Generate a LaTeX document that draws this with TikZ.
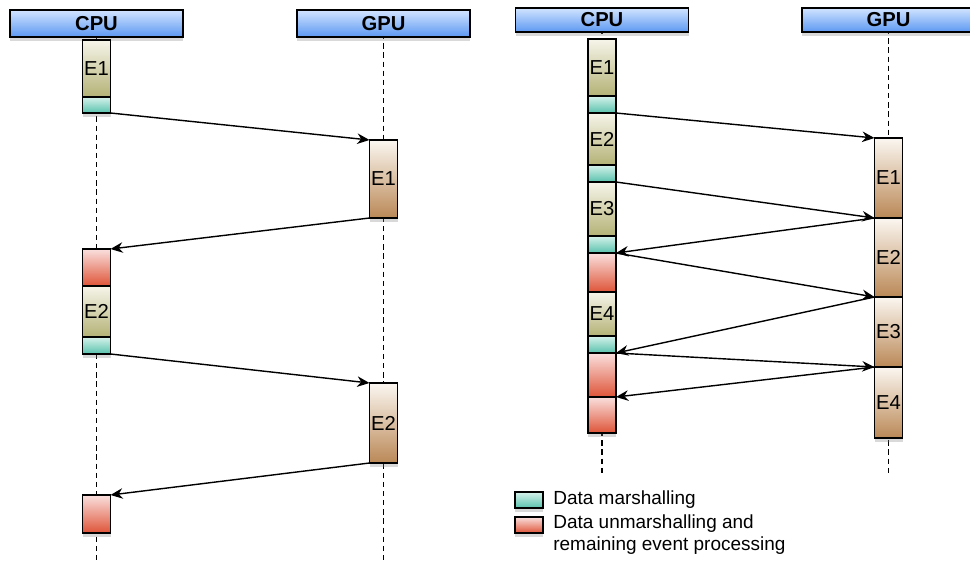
\documentclass[tikz,border=0pt]{standalone}
\usepackage{fontspec}
\setmainfont{Liberation Sans}
\usepackage{tikz}
\usetikzlibrary{arrows.meta,positioning,shadows}
\definecolor{hdtop}{RGB}{210,228,255}
\definecolor{hdbot}{RGB}{92,152,242}
\definecolor{evtop}{RGB}{246,245,234}
\definecolor{evbot}{RGB}{180,178,118}
\definecolor{martop}{RGB}{214,242,236}
\definecolor{marbot}{RGB}{88,194,172}
\definecolor{unmtop}{RGB}{250,224,222}
\definecolor{unmbot}{RGB}{222,84,56}
\definecolor{gputop}{RGB}{251,247,241}
\definecolor{gpubot}{RGB}{186,136,86}

\begin{document}
\begin{tikzpicture}[
  >={Stealth[length=7pt,width=6pt]},
  font=\fontsize{11.5}{13}\selectfont,
  lifeline/.style={draw=black, line width=0.7pt, dash pattern=on 3pt off 2.2pt},
  msg/.style={->, line width=0.8pt},
  shd/.style={drop shadow={shadow xshift=0pt, shadow yshift=-2pt, opacity=0.3}},
  header/.style={draw, line width=0.8pt, top color=hdtop, bottom color=hdbot,
                 minimum width=3.46cm, minimum height=#1, inner sep=0pt,
                 font=\fontsize{11.5}{13}\selectfont\bfseries, shd},
  blk/.style={draw, line width=0.8pt, minimum width=0.56cm, minimum height=#1,
              inner sep=0pt, outer sep=0pt, shd},
  ev/.style={blk=#1, top color=evtop, bottom color=evbot},
  mar/.style={blk=#1, top color=martop, bottom color=marbot},
  unm/.style={blk=#1, top color=unmtop, bottom color=unmbot},
  gev/.style={blk=#1, top color=gputop, bottom color=gpubot},
  legend/.style={font=\fontsize{10.8}{13}\selectfont, inner sep=0pt, align=left}
]
\useasboundingbox (0,0) rectangle (19.4,-11.2);

% ---- X positions ----
\def\xLC{1.93}   % left CPU
\def\xLG{7.67}   % left GPU
\def\xRC{12.04}  % right CPU
\def\xRG{17.77}  % right GPU

% ---- Lifelines ----
\coordinate (lcend) at (\xLC,-11.2);
\coordinate (lgend) at (\xLG,-11.2);
\coordinate (rcend) at (\xRC,-9.5);
\coordinate (rgend) at (\xRG,-9.5);
\coordinate (lctop) at (\xLC,-0.5);
\coordinate (lgtop) at (\xLG,-0.5);
\coordinate (rctop) at (\xRC,-0.4);
\coordinate (rgtop) at (\xRG,-0.4);
\draw[lifeline] (lctop) -- (lcend);
\draw[lifeline] (lgtop) -- (lgend);
\draw[lifeline] (rctop) -- (rcend);
\draw[lifeline] (rgtop) -- (rgend);

% ---- Headers ----
\node[header=0.54cm] (lcpu) at (\xLC,-0.47) {CPU};
\node[header=0.54cm] (lgpu) at (\xLG,-0.47) {GPU};
\node[header=0.48cm] (rcpu) at (\xRC,-0.40) {CPU};
\node[header=0.48cm] (rgpu) at (\xRG,-0.40) {GPU};

% ----- Left: one event at a time -----
\node[ev=1.14cm, anchor=north] (lc1) at (\xLC,-0.80) {E1};
\node[mar=0.32cm, below=0pt of lc1] (lm1) {};
\node[unm=0.74cm, anchor=north] (lu2) at (\xLC,-4.98) {};
\node[ev=1.02cm, below=0pt of lu2] (lc2) {E2};
\node[mar=0.34cm, below=0pt of lc2] (lm2) {};
\node[unm=0.76cm, anchor=north] (lu3) at (\xLC,-9.90) {};

\node[gev=1.56cm, anchor=north] (lg1) at (\xLG,-2.80) {E1};
\node[gev=1.60cm, anchor=north] (lg2) at (\xLG,-7.66) {E2};

\draw[msg] (lm1.south east) -- (lg1.north west);
\draw[msg] (lg1.south west) -- (lu2.north east);
\draw[msg] (lm2.south east) -- (lg2.north west);
\draw[msg] (lg2.south west) -- (lu3.north east);

% ----- Right: pipelined events -----
\node[ev=1.14cm, anchor=north] (rc1) at (\xRC,-0.78) {E1};
\node[mar=0.34cm, below=0pt of rc1] (rm1) {};
\node[ev=1.04cm, below=0pt of rm1] (rc2) {E2};
\node[mar=0.34cm, below=0pt of rc2] (rm2) {};
\node[ev=1.08cm, below=0pt of rm2] (rc3) {E3};
\node[mar=0.34cm, below=0pt of rc3] (rm3) {};
\node[unm=0.78cm, below=0pt of rm3] (ru1) {};
\node[ev=0.88cm, below=0pt of ru1] (rc4) {E4};
\node[mar=0.34cm, below=0pt of rc4] (rm4) {};
\node[unm=0.88cm, below=0pt of rm4] (ru2) {};
\node[unm=0.72cm, below=0pt of ru2] (ru3) {};

\node[gev=1.60cm, anchor=north] (rg1) at (\xRG,-2.76) {E1};
\node[gev=1.58cm, below=0pt of rg1] (rg2) {E2};
\node[gev=1.40cm, below=0pt of rg2] (rg3) {E3};
\node[gev=1.42cm, below=0pt of rg3] (rg4) {E4};

\draw[msg] (rm1.south east) -- (rg1.north west);
\draw[msg] (rm2.south east) -- (rg1.south west);
\draw[msg] (rg1.south west) -- (rm3.south east);
\draw[msg] (rm3.south east) -- (rg2.south west);
\draw[msg] (rg2.south west) -- (rm4.south east);
\draw[msg] (rm4.south east) -- (rg3.south west);
\draw[msg] (rg3.south west) -- (ru2.south east);

% ---- Legend ----
\node[mar=0.32cm] (legm) at (10.58,-10.0) {};
\node[legend, anchor=west, right=0.2cm of legm] (legmt) {Data marshalling};
\node[unm=0.32cm] (legu) at (10.58,-10.5) {};
\node[legend, anchor=north west] (legut) at ([xshift=0.2cm, yshift=0.06cm]legu.north east)
  {Data unmarshalling and\\remaining event processing};

\end{tikzpicture}
\end{document}
